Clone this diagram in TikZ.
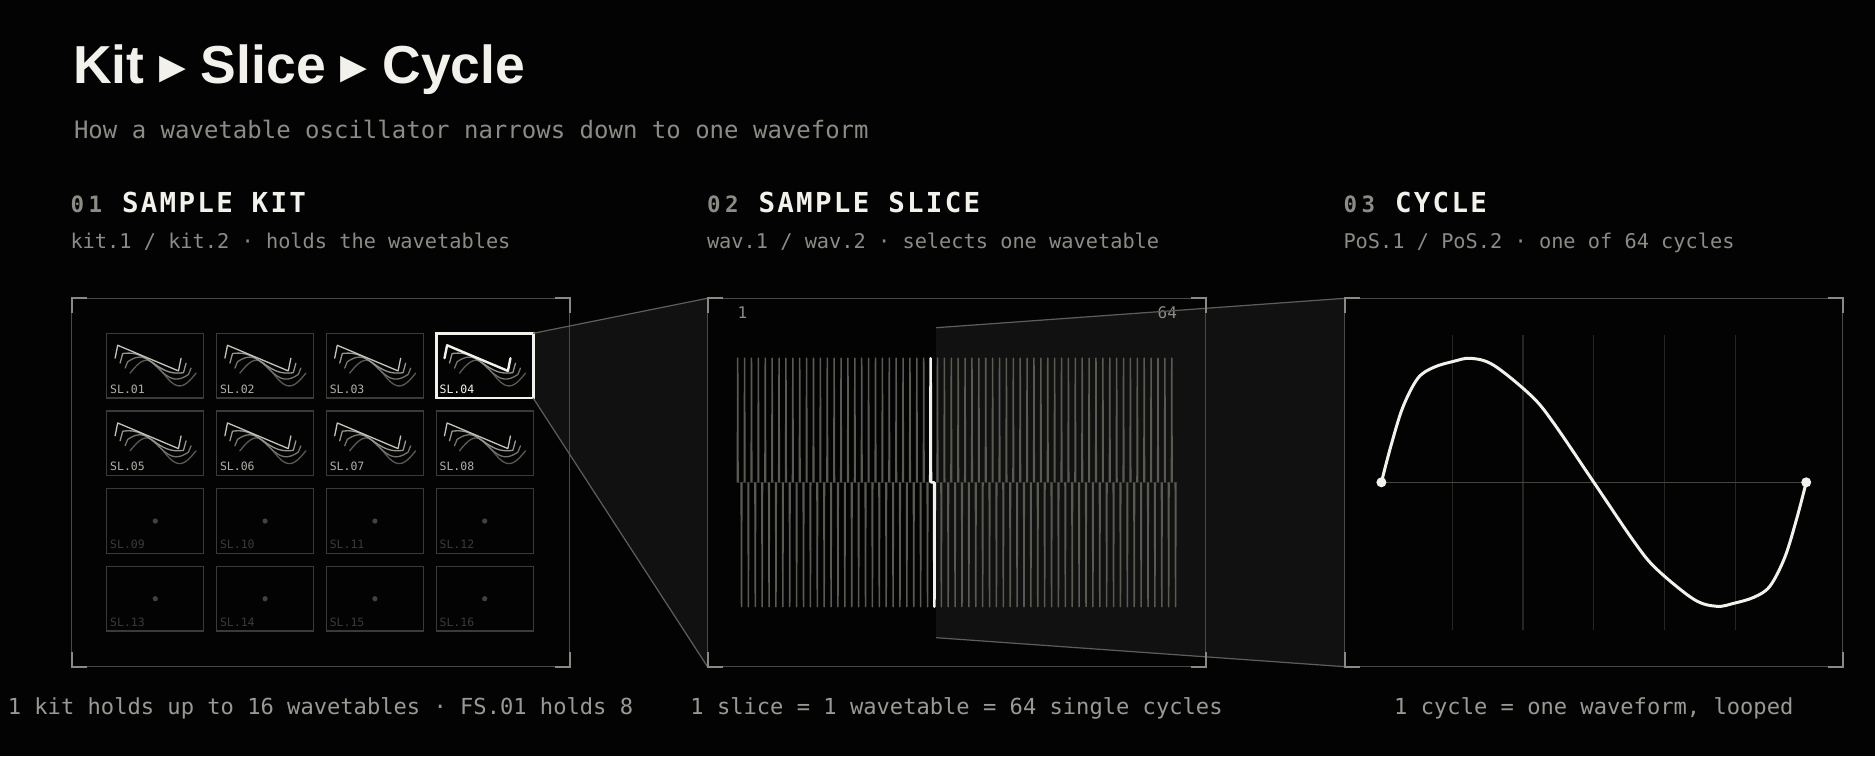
\documentclass[tikz,border=0pt]{standalone}
\usepackage{fontspec}
\setmonofont{DejaVu Sans Mono}
\newfontfamily\titlefont{Liberation Sans}
\newfontfamily\symfont{DejaVu Sans}
\newfontfamily\headfont{DejaVu Sans Mono}[LetterSpace=8.4]
\newfontfamily\numfont{DejaVu Sans Mono}[LetterSpace=20]
\usetikzlibrary{backgrounds}
\definecolor{bgc}{HTML}{030303}
\definecolor{ink}{HTML}{F2F1EB}
\definecolor{muted}{HTML}{8C8C86}
\definecolor{capc}{HTML}{9A9A94}
\definecolor{framec}{HTML}{4A4A47}
\definecolor{brkc}{HTML}{8A8A85}
\definecolor{tileb}{HTML}{3A3A38}
\definecolor{zonec}{HTML}{111111}
\definecolor{connc}{HTML}{5E5E59}
\definecolor{wavec}{HTML}{5A5A53}
\definecolor{gridc}{HTML}{262624}
\definecolor{midc}{HTML}{45453F}
\definecolor{dimc}{HTML}{3A3A38}
\definecolor{dotc}{HTML}{424240}
\definecolor{lblc}{HTML}{B0B0A9}
\definecolor{cw0}{HTML}{C4C4BC}
\definecolor{cw1}{HTML}{96968F}
\definecolor{cw2}{HTML}{74746D}
\definecolor{cw3}{HTML}{5A5A54}
\definecolor{baselc}{HTML}{1F1F1E}
\begin{document}
\begin{tikzpicture}[x=1pt,y=-1pt,
  txt/.style={inner sep=0pt, outer sep=0pt},
  panel/.style={draw=framec, line width=1.2pt, minimum width=498pt, minimum height=368.4pt, inner sep=0pt, outer sep=0pt, rectangle},
  brk/.style={draw=brkc, line width=2pt},
  tile/.style={draw=tileb, line width=1.3pt, minimum width=97pt, minimum height=64.8pt, inner sep=0pt, outer sep=0pt, rectangle},
  tilesel/.style={tile, draw=ink, line width=2.6pt},
  conn/.style={draw=connc, line width=1.2pt},
  zone/.style={fill=zonec},
  wavel/.style={draw=wavec, line width=1.5pt, line join=round},
  wavesel/.style={draw=ink, line width=2.6pt, line join=round},
  gridl/.style={draw=gridc, line width=1.2pt},
  midl/.style={draw=midc, line width=1.2pt},
  cycl/.style={draw=ink, line width=3pt, line cap=round, line join=round},
  declare function={sawf(\v)=(\v<0.04)*(\v/0.04)+(\v>=0.04)*(\v<=0.96)*(1-2*(\v-0.04)/0.92)+(\v>0.96)*((\v-1)/0.04);}
]
\useasboundingbox (0,0) rectangle (1875,756);
\begin{pgfonlayer}{background}
\fill[bgc] (0,0) rectangle (1875,756);
\end{pgfonlayer}

% ---------- titles ----------
\node[txt, anchor=base west, text=ink] (title) at (73,83.3)
  {\titlefont\bfseries\fontsize{53.5}{53.5}\selectfont Kit {\symfont\bfseries ▸} Slice {\symfont\bfseries ▸} Cycle};
\node[txt, anchor=base west, text=muted, font={\ttfamily\fontsize{24}{24}\selectfont}] (subtitle) at (74,138.3)
  {How a wavetable oscillator narrows down to one waveform};

\node[txt, anchor=base west, text=muted, font={\numfont\bfseries\fontsize{22.5}{22.5}\selectfont}] (n1) at (70.5,212.7) {01};
\node[txt, anchor=base west, text=ink, font={\headfont\bfseries\fontsize{27.5}{27.5}\selectfont}] (h1) at (122,212.7) {SAMPLE KIT};
\node[txt, anchor=base west, text=muted, font={\ttfamily\fontsize{20.3}{20.3}\selectfont}] (d1) at (70.5,248.5) {kit.1 / kit.2 · holds the wavetables};

\node[txt, anchor=base west, text=muted, font={\numfont\bfseries\fontsize{22.5}{22.5}\selectfont}] (n2) at (707,212.7) {02};
\node[txt, anchor=base west, text=ink, font={\headfont\bfseries\fontsize{27.5}{27.5}\selectfont}] (h2) at (758.5,212.7) {SAMPLE SLICE};
\node[txt, anchor=base west, text=muted, font={\ttfamily\fontsize{20.3}{20.3}\selectfont}] (d2) at (707,248.5) {wav.1 / wav.2 · selects one wavetable};

\node[txt, anchor=base west, text=muted, font={\numfont\bfseries\fontsize{22.5}{22.5}\selectfont}] (n3) at (1343.5,212.7) {03};
\node[txt, anchor=base west, text=ink, font={\headfont\bfseries\fontsize{27.5}{27.5}\selectfont}] (h3) at (1395,212.7) {CYCLE};
\node[txt, anchor=base west, text=muted, font={\ttfamily\fontsize{20.3}{20.3}\selectfont}] (d3) at (1343.5,248.5) {PoS.1 / PoS.2 · one of 64 cycles};

% ---------- panels ----------
\node[panel] (p1) at (320.5,482.5) {};
\node[panel] (p2) at (956.5,482.5) {};
\node[panel] (p3) at (1593.8,482.5) {};

% ---------- panel 1: tiles ----------
\foreach \j in {0,...,3} {
  \foreach \i in {0,...,3} {
    \pgfmathtruncatemacro\n{\j*4+\i+1}
    \edef\st{\ifnum\n=4 tilesel\else tile\fi}
    \edef\lc{\ifnum\n=4 ink\else\ifnum\n<9 lblc\else dimc\fi\fi}
    \node[\st] (t\n) at ({155.3+109.8*\i},{365.7+77.67*\j}) {};
    \node[txt, anchor=base west, text=\lc, font={\ttfamily\fontsize{11.5}{11.5}\selectfont}] (l\n) at ([xshift=3.4pt,yshift=5pt]t\n.south west) {SL.\ifnum\n<10 0\fi\n};
    \ifnum\n<9
      \begin{scope}[shift={(t\n.north west)}]
        \foreach \k/\c in {3/cw3,2/cw2,1/cw1,0/cw0} {
          \edef\cc{\ifnum\n=4 \ifnum\k=0 ink\else\c\fi\else\c\fi}
          \edef\lw{\ifnum\n=4 \ifnum\k=0 2.4pt\else 1.3pt\fi\else 1.3pt\fi}
          \draw[draw=\cc, line width=\lw, line join=round, line cap=round]
            plot[smooth, tension=0.3, domain=0:1, samples=51, variable=\u]
            ({8.3+5*\k+66*\u},{24.8+5*\k-12.8*((1-\k/3)*sawf(\u)+(\k/3)*sin(360*\u))});
        }
      \end{scope}
    \else
      \fill[dotc] (t\n.center) circle (2.6);
    \fi
  }
}

% ---------- connector 1 ----------
\begin{pgfonlayer}{background}
\fill[zone] (t4.north east) -- (p2.north west) -- (p2.south west) -- (t4.south east) -- cycle;
\end{pgfonlayer}
\draw[conn] (t4.north east) -- (p2.north west);
\draw[conn] (t4.south east) -- (p2.south west);

% ---------- panel 2: slice ----------
\node[txt, anchor=base west, text=muted, font={\ttfamily\fontsize{16}{16}\selectfont}] (lab1) at (737.5,318.3) {1};
\node[txt, anchor=base east, text=muted, font={\ttfamily\fontsize{16}{16}\selectfont}] (lab64) at (1177,318.3) {64};
\coordinate (w0) at (737,482.3);
\coordinate (w1) at (1178,482.3);
\draw[draw=baselc, line width=1pt] (w0) -- (w1);
\draw[wavel] \foreach \k in {0,...,63} {
   ({737+6.89*\k+0.35},482.3) -- ({737+6.89*\k+0.7},358.2) -- ({737+6.89*\k+1.05},482.3)
   ({737+6.89*\k+4.15},482.3) -- ({737+6.89*\k+4.5},606.7) -- ({737+6.89*\k+4.85},482.3) };
\coordinate (hs) at ({737+6.89*28+0.35},482.3);
\coordinate (he) at ({737+6.89*28+4.85},482.3);
\draw[wavesel] (hs) -- ({737+6.89*28+0.7},358.2) -- ({737+6.89*28+1.05},482.3) -- ({737+6.89*28+4.15},482.3) -- ({737+6.89*28+4.5},606.7) -- (he);
\coordinate (z1) at ({737+6.89*29-0.6},327.7);
\coordinate (z2) at ({737+6.89*29-0.6},637.7);

% ---------- connector 2 ----------
\begin{pgfonlayer}{background}
\fill[zone] (z1) -- (p3.north west) -- (p3.south west) -- (z2) -- cycle;
\end{pgfonlayer}
\draw[conn] (z1) -- (p3.north west);
\draw[conn] (z2) -- (p3.south west);

% ---------- panel 3: cycle ----------
\foreach \i in {1,...,5} {
  \draw[gridl] ({1381.4+70.8*\i},335) -- ({1381.4+70.8*\i},630);
}
\coordinate (c0) at (1381.4,482.3);
\coordinate (c1) at (1806.2,482.3);
\draw[midl] (c0) -- (c1);
\begin{scope}[shift={(1593.8,482.3)}]
\draw[cycl] plot[smooth, tension=0.55] coordinates {
  (-212.4,0) (-203,-36) (-191,-75) (-176,-104) (-160,-115) (-140,-121) (-123,-124)
  (-100,-117) (-62,-86) (-40,-59) (0,0) (40,59) (62,86) (100,117) (123,124)
  (140,121) (160,115) (176,104) (191,75) (203,36) (212.4,0)};
\end{scope}
\fill[ink] (c0) circle (5);
\fill[ink] (c1) circle (5);

% ---------- brackets ----------
\foreach \p in {p1,p2,p3} {
  \draw[brk] ([yshift=-15pt]\p.north west) -- (\p.north west) -- ([xshift=15pt]\p.north west);
  \draw[brk] ([xshift=-15pt]\p.north east) -- (\p.north east) -- ([yshift=-15pt]\p.north east);
  \draw[brk] ([yshift=15pt]\p.south west) -- (\p.south west) -- ([xshift=15pt]\p.south west);
  \draw[brk] ([xshift=-15pt]\p.south east) -- (\p.south east) -- ([yshift=15pt]\p.south east);
}

% ---------- captions ----------
\node[txt, anchor=base, text=capc, font={\ttfamily\fontsize{22.1}{22.1}\selectfont}] (cap1) at (320.5,714) {1 kit holds up to 16 wavetables · FS.01 holds 8};
\node[txt, anchor=base, text=capc, font={\ttfamily\fontsize{22.1}{22.1}\selectfont}] (cap2) at (956.5,714) {1 slice = 1 wavetable = 64 single cycles};
\node[txt, anchor=base, text=capc, font={\ttfamily\fontsize{22.1}{22.1}\selectfont}] (cap3) at (1593.8,714) {1 cycle = one waveform, looped};
\end{tikzpicture}
\end{document}
